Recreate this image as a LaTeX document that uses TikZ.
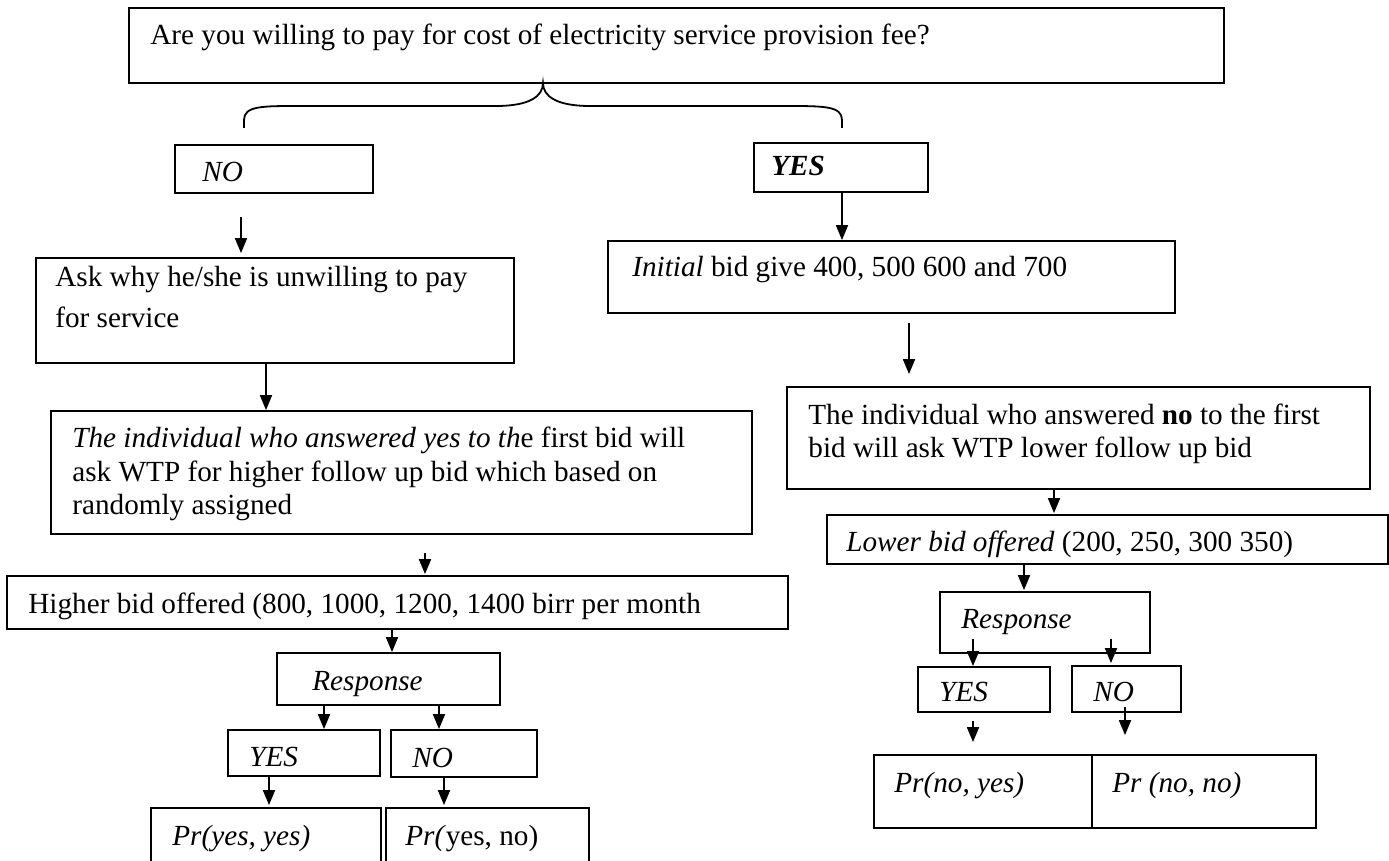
\documentclass[tikz,border=0pt]{standalone}
\usepackage{fontspec}
\setmainfont{Liberation Serif}
\usetikzlibrary{arrows.meta,fit}
\tikzset{
  box/.style={draw, line width=0.9pt, inner sep=0pt},
  txt/.style={anchor=base west, inner sep=0pt, font=\fontsize{14.6}{16.75}\selectfont},
  arr/.style={line width=0.9pt, -{Triangle[length=7.5pt,width=6pt]}},
}
\begin{document}
\begin{tikzpicture}[x=0.5pt, y=-0.5pt]
    \clip (0,0) rectangle (1389,861);

    % box question
    \node[box, fit={(129,8) (1224,83)}] (q) {};
    % text question
    \node[txt] (qtxt) at (150,45) {Are you willing to pay for cost of electricity service provision fee?};

    % brace
    \draw[line width=0.9pt] (244,128) -- (244,120) .. controls (244,106) and (262,106) .. (298,106)
        -- (496,106) .. controls (530,106) and (543,96) .. (543,83)
        .. controls (543,96) and (556,106) .. (590,106) -- (786,106)
        .. controls (824,106) and (842,106) .. (842,120) -- (842,128);

    % box NO
    \node[box, fit={(175,145) (373,193)}] (nobox) {};
    \node[txt] (notxt) at (202,182) {\textit{NO}};

    % box YES
    \node[box, fit={(754,143) (928,192)}] (yesbox) {};
    \node[txt] (yestxt) at (771,176) {\textbf{\textit{YES}}};

    % left branch
    \node[box, fit={(36,258) (514,363)}] (ask) {};
    \node[txt, align=left, font=\fontsize{14.6}{20.5}\selectfont] (asktxt) at (55,328)
        {Ask why he/she is unwilling to pay\\for service};

    \node[box, fit={(51,411) (752,534)}] (yesind) {};
    \node[txt, align=left] (yesindtxt) at (72,515)
        {\textit{The individual who answered yes to th}e first bid will\\ask WTP for higher follow up bid which based on\\randomly assigned};

    \node[box, fit={(7,576) (788,629)}] (higher) {};
    \node[txt] (highertxt) at (28,613) {Higher bid offered (800, 1000, 1200, 1400 birr per month};

    \node[box, fit={(277,653) (500,705)}] (resp1) {};
    \node[txt] (resp1txt) at (312,690) {\textit{Response}};

    \node[box, fit={(228,730) (380,776)}] (yes1) {};
    \node[txt] (yes1txt) at (249,766) {\textit{YES}};
    \node[box, fit={(391,730) (537,777)}] (no1) {};
    \node[txt] (no1txt) at (412,767) {\textit{NO}};

    \node[box, fit={(151,808) (381,880)}] (pyy) {};
    \node[txt] (pyytxt) at (172,845) {\textit{Pr(yes, yes)}};
    \node[box, fit={(386,808) (589,880)}] (pyn) {};
    \node[txt] (pyntxt) at (405,845) {\textit{Pr(}yes, no)};

    % right branch
    \node[box, fit={(608,241) (1175,313)}] (initial) {};
    \node[txt] (initxt) at (632,277) {\textit{Initial} bid give 400, 500 600 and 700};

    \node[box, fit={(787,387) (1370,489)}] (noind) {};
    \node[txt, align=left] (noindtxt) at (808,458)
        {The individual who answered \textbf{no} to the first\\bid will ask WTP lower follow up bid};

    \node[box, fit={(827,515) (1388,564)}] (lower) {};
    \node[txt] (lowertxt) at (846,552) {\textit{Lower bid offered} (200, 250, 300 350)};

    \node[box, fit={(940,592) (1150,653)}] (resp2) {};
    \node[txt] (resp2txt) at (961,628) {\textit{Response}};

    \node[box, fit={(918,667) (1050,712)}] (yes2) {};
    \node[txt] (yes2txt) at (939,702) {\textit{YES}};
    \node[box, fit={(1072,666) (1181,712)}] (no2) {};
    \node[txt] (no2txt) at (1093,702) {\textit{NO}};

    \node[box, fit={(874,755) (1092,828)}] (pny) {};
    \node[txt] (pnytxt) at (894,792) {\textit{Pr(no, yes)}};
    \node[box, fit={(1092,755) (1316,828)}] (pnn) {};
    \node[txt] (pnntxt) at (1112,792) {\textit{Pr (no, no)}};

    % arrows left
    \draw[arr] ([shift={(-33,23)}]nobox.south) -- ([shift={(-34,-4)}]ask.north);
    \draw[arr] ([shift={(-9,0)}]ask.south) -- ([shift={(-135.5,0)}]yesind.north);
    \draw[arr] ([shift={(23.5,18)}]yesind.south) -- ([shift={(27.5,-1)}]higher.north);
    \draw[arr] ([shift={(-5.5,0)}]higher.south) -- ([shift={(3.5,0)}]resp1.north);
    \draw[arr] ([shift={(-64.5,0)}]resp1.south) -- ([shift={(20,0)}]yes1.north);
    \draw[arr] ([shift={(50.5,0)}]resp1.south) -- ([shift={(-25,0)}]no1.north);
    \draw[arr] ([shift={(-35,0)}]yes1.south) -- ([shift={(3,-2)}]pyy.north);
    \draw[arr] ([shift={(-20,0)}]no1.south) -- ([shift={(-43.5,-2)}]pyn.north);

    % arrows right
    \draw[arr] ([shift={(1,0)}]yesbox.south) -- ([shift={(-49.5,0)}]initial.north);
    \draw[arr] ([shift={(17.5,9)}]initial.south) -- ([shift={(-169.5,-12)}]noind.north);
    \draw[arr] ([shift={(-24.5,0)}]noind.south) -- ([shift={(-53.5,-1)}]lower.north);
    \draw[arr] ([shift={(-83.5,0)}]lower.south) -- ([shift={(-21,-1)}]resp2.north);
    \draw[arr] ([shift={(-72,-15)}]resp2.south) -- ([shift={(-11,0)}]yes2.north);
    \draw[arr] ([shift={(66,-15)}]resp2.south) -- ([shift={(-15.5,-2)}]no2.north);
    \draw[arr] ([shift={(-11,8)}]yes2.south) -- ([shift={(-10,-12)}]pny.north);
    \draw[arr] ([shift={(-1.5,-6)}]no2.south) -- ([shift={(-79,-19)}]pnn.north);
\end{tikzpicture}
\end{document}
